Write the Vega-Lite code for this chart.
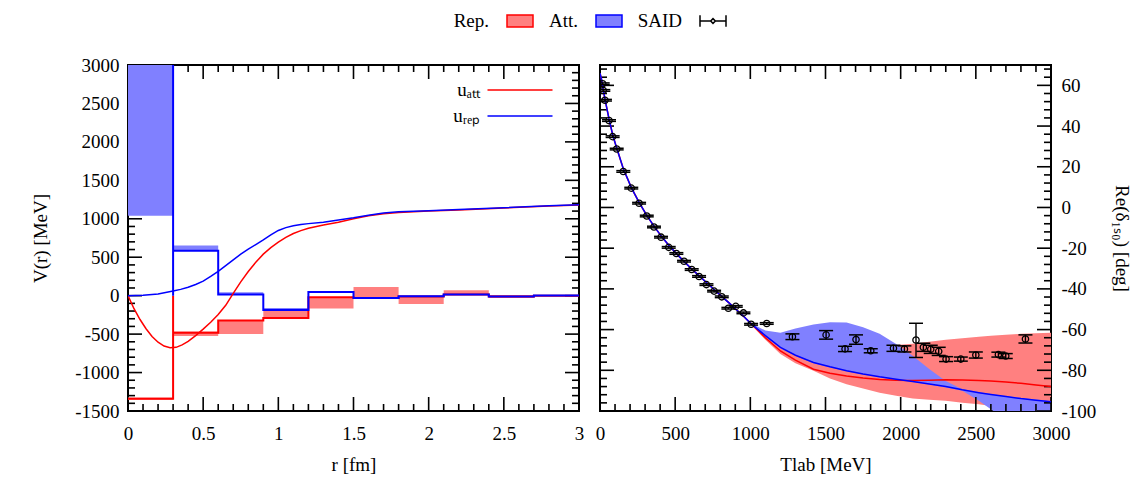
{
  "$schema": "https://vega.github.io/schema/vega-lite/v6.json",
  "padding": {"left": 30, "top": 6, "right": 5, "bottom": 3},
  "bounds": "flush",
  "spacing": 21,
  "config": {
    "font": "Liberation Serif",
    "view": {"stroke": "black", "strokeWidth": 2},
    "axis": {"labelFont": "Liberation Serif", "labelFontSize": 19, "labelColor": "black", "titleFont": "Liberation Serif", "titleFontSize": 19, "titleFontWeight": "normal", "titleColor": "black", "domain": false, "ticks": false, "grid": false, "labelFlush": false, "labelOverlap": false},
    "legend": {"labelFont": "Liberation Serif", "labelFontSize": 19, "labelColor": "black", "labelLimit": 0},
    "rule": {"color": "black", "strokeWidth": 1.6}
  },
  "datasets": {
    "tk_lx": [
      {"v": 0, "m": "maj"}, {"v": 0.1, "m": "min"}, {"v": 0.2, "m": "min"}, {"v": 0.3, "m": "min"}, {"v": 0.4, "m": "min"},
      {"v": 0.5, "m": "maj"}, {"v": 0.6, "m": "min"}, {"v": 0.7, "m": "min"}, {"v": 0.8, "m": "min"}, {"v": 0.9, "m": "min"},
      {"v": 1, "m": "maj"}, {"v": 1.1, "m": "min"}, {"v": 1.2, "m": "min"}, {"v": 1.3, "m": "min"}, {"v": 1.4, "m": "min"},
      {"v": 1.5, "m": "maj"}, {"v": 1.6, "m": "min"}, {"v": 1.7, "m": "min"}, {"v": 1.8, "m": "min"}, {"v": 1.9, "m": "min"},
      {"v": 2, "m": "maj"}, {"v": 2.1, "m": "min"}, {"v": 2.2, "m": "min"}, {"v": 2.3, "m": "min"}, {"v": 2.4, "m": "min"},
      {"v": 2.5, "m": "maj"}, {"v": 2.6, "m": "min"}, {"v": 2.7, "m": "min"}, {"v": 2.8, "m": "min"}, {"v": 2.9, "m": "min"},
      {"v": 3, "m": "maj"}
    ],
    "tk_ly": [
      {"v": -1500, "m": "maj"}, {"v": -1400, "m": "min"}, {"v": -1300, "m": "min"}, {"v": -1200, "m": "min"}, {"v": -1100, "m": "min"},
      {"v": -1000, "m": "maj"}, {"v": -900, "m": "min"}, {"v": -800, "m": "min"}, {"v": -700, "m": "min"}, {"v": -600, "m": "min"},
      {"v": -500, "m": "maj"}, {"v": -400, "m": "min"}, {"v": -300, "m": "min"}, {"v": -200, "m": "min"}, {"v": -100, "m": "min"},
      {"v": 0, "m": "maj"}, {"v": 100, "m": "min"}, {"v": 200, "m": "min"}, {"v": 300, "m": "min"}, {"v": 400, "m": "min"},
      {"v": 500, "m": "maj"}, {"v": 600, "m": "min"}, {"v": 700, "m": "min"}, {"v": 800, "m": "min"}, {"v": 900, "m": "min"},
      {"v": 1000, "m": "maj"}, {"v": 1100, "m": "min"}, {"v": 1200, "m": "min"}, {"v": 1300, "m": "min"}, {"v": 1400, "m": "min"},
      {"v": 1500, "m": "maj"}, {"v": 1600, "m": "min"}, {"v": 1700, "m": "min"}, {"v": 1800, "m": "min"}, {"v": 1900, "m": "min"},
      {"v": 2000, "m": "maj"}, {"v": 2100, "m": "min"}, {"v": 2200, "m": "min"}, {"v": 2300, "m": "min"}, {"v": 2400, "m": "min"},
      {"v": 2500, "m": "maj"}, {"v": 2600, "m": "min"}, {"v": 2700, "m": "min"}, {"v": 2800, "m": "min"}, {"v": 2900, "m": "min"},
      {"v": 3000, "m": "maj"}
    ],
    "tk_rx": [
      {"v": 0, "m": "maj"}, {"v": 100, "m": "min"}, {"v": 200, "m": "min"}, {"v": 300, "m": "min"}, {"v": 400, "m": "min"},
      {"v": 500, "m": "maj"}, {"v": 600, "m": "min"}, {"v": 700, "m": "min"}, {"v": 800, "m": "min"}, {"v": 900, "m": "min"},
      {"v": 1000, "m": "maj"}, {"v": 1100, "m": "min"}, {"v": 1200, "m": "min"}, {"v": 1300, "m": "min"}, {"v": 1400, "m": "min"},
      {"v": 1500, "m": "maj"}, {"v": 1600, "m": "min"}, {"v": 1700, "m": "min"}, {"v": 1800, "m": "min"}, {"v": 1900, "m": "min"},
      {"v": 2000, "m": "maj"}, {"v": 2100, "m": "min"}, {"v": 2200, "m": "min"}, {"v": 2300, "m": "min"}, {"v": 2400, "m": "min"},
      {"v": 2500, "m": "maj"}, {"v": 2600, "m": "min"}, {"v": 2700, "m": "min"}, {"v": 2800, "m": "min"}, {"v": 2900, "m": "min"},
      {"v": 3000, "m": "maj"}
    ],
    "tk_ry": [
      {"v": -100, "m": "maj"}, {"v": -96, "m": "min"}, {"v": -92, "m": "min"}, {"v": -88, "m": "min"}, {"v": -84, "m": "min"},
      {"v": -80, "m": "maj"}, {"v": -76, "m": "min"}, {"v": -72, "m": "min"}, {"v": -68, "m": "min"}, {"v": -64, "m": "min"},
      {"v": -60, "m": "maj"}, {"v": -56, "m": "min"}, {"v": -52, "m": "min"}, {"v": -48, "m": "min"}, {"v": -44, "m": "min"},
      {"v": -40, "m": "maj"}, {"v": -36, "m": "min"}, {"v": -32, "m": "min"}, {"v": -28, "m": "min"}, {"v": -24, "m": "min"},
      {"v": -20, "m": "maj"}, {"v": -16, "m": "min"}, {"v": -12, "m": "min"}, {"v": -8, "m": "min"}, {"v": -4, "m": "min"},
      {"v": 0, "m": "maj"}, {"v": 4, "m": "min"}, {"v": 8, "m": "min"}, {"v": 12, "m": "min"}, {"v": 16, "m": "min"},
      {"v": 20, "m": "maj"}, {"v": 24, "m": "min"}, {"v": 28, "m": "min"}, {"v": 32, "m": "min"}, {"v": 36, "m": "min"},
      {"v": 40, "m": "maj"}, {"v": 44, "m": "min"}, {"v": 48, "m": "min"}, {"v": 52, "m": "min"}, {"v": 56, "m": "min"},
      {"v": 60, "m": "maj"}, {"v": 64, "m": "min"}, {"v": 68, "m": "min"}
    ],
    "lbars": [
      {"kind": "Rep.", "r0": 0, "r1": 0.3, "lo": -1355, "hi": -1325},
      {"kind": "Rep.", "r0": 0.3, "r1": 0.6, "lo": -525, "hi": -465},
      {"kind": "Rep.", "r0": 0.6, "r1": 0.9, "lo": -497, "hi": -323},
      {"kind": "Rep.", "r0": 0.9, "r1": 1.2, "lo": -289, "hi": -160},
      {"kind": "Rep.", "r0": 1.2, "r1": 1.5, "lo": -168, "hi": -21},
      {"kind": "Rep.", "r0": 1.5, "r1": 1.8, "lo": -30, "hi": 113},
      {"kind": "Rep.", "r0": 1.8, "r1": 2.1, "lo": -107, "hi": -8},
      {"kind": "Rep.", "r0": 2.1, "r1": 2.4, "lo": 14, "hi": 70},
      {"kind": "Rep.", "r0": 2.4, "r1": 2.7, "lo": -30, "hi": 10},
      {"kind": "Rep.", "r0": 2.7, "r1": 3.0, "lo": -4, "hi": 4},
      {"kind": "Att.", "r0": 0, "r1": 0.3, "lo": 1040, "hi": 3500},
      {"kind": "Att.", "r0": 0.3, "r1": 0.6, "lo": 585, "hi": 654},
      {"kind": "Att.", "r0": 0.6, "r1": 0.9, "lo": 14, "hi": 44},
      {"kind": "Att.", "r0": 0.9, "r1": 1.2, "lo": -185, "hi": -160},
      {"kind": "Att.", "r0": 1.2, "r1": 1.5, "lo": 44, "hi": 58},
      {"kind": "Att.", "r0": 1.5, "r1": 1.8, "lo": -34, "hi": -24},
      {"kind": "Att.", "r0": 1.8, "r1": 2.1, "lo": -10, "hi": -2},
      {"kind": "Att.", "r0": 2.1, "r1": 2.4, "lo": 12, "hi": 20},
      {"kind": "Att.", "r0": 2.4, "r1": 2.7, "lo": -14, "hi": -6},
      {"kind": "Att.", "r0": 2.7, "r1": 3.0, "lo": -2, "hi": 6}
    ],
    "lsteps": [
      {"kind": "Rep.", "i": 0, "r": 0, "V": -1340},
      {"kind": "Rep.", "i": 1, "r": 0.3, "V": 0},
      {"kind": "Rep.", "i": 2, "r": 0.3, "V": -483},
      {"kind": "Rep.", "i": 3, "r": 0.6, "V": -323},
      {"kind": "Rep.", "i": 4, "r": 0.9, "V": -289},
      {"kind": "Rep.", "i": 5, "r": 1.2, "V": -21},
      {"kind": "Rep.", "i": 6, "r": 1.5, "V": -30},
      {"kind": "Rep.", "i": 7, "r": 1.8, "V": -10},
      {"kind": "Rep.", "i": 8, "r": 2.1, "V": 14},
      {"kind": "Rep.", "i": 9, "r": 2.4, "V": -12},
      {"kind": "Rep.", "i": 10, "r": 2.7, "V": 0},
      {"kind": "Rep.", "i": 11, "r": 3.0, "V": 0},
      {"kind": "Att.", "i": 0, "r": 0, "V": 3500},
      {"kind": "Att.", "i": 1, "r": 0.3, "V": 0},
      {"kind": "Att.", "i": 2, "r": 0.3, "V": 585},
      {"kind": "Att.", "i": 3, "r": 0.6, "V": 14},
      {"kind": "Att.", "i": 4, "r": 0.9, "V": -185},
      {"kind": "Att.", "i": 5, "r": 1.2, "V": 48},
      {"kind": "Att.", "i": 6, "r": 1.5, "V": -30},
      {"kind": "Att.", "i": 7, "r": 1.8, "V": -8},
      {"kind": "Att.", "i": 8, "r": 2.1, "V": 16},
      {"kind": "Att.", "i": 9, "r": 2.4, "V": -10},
      {"kind": "Att.", "i": 10, "r": 2.7, "V": 2},
      {"kind": "Att.", "i": 11, "r": 3.0, "V": 2}
    ],
    "lcurves": [
      {"curve": "uₐₜₜ", "r": 0, "V": 0},
      {"curve": "uₐₜₜ", "r": 0.04, "V": -170},
      {"curve": "uₐₜₜ", "r": 0.08, "V": -310},
      {"curve": "uₐₜₜ", "r": 0.12, "V": -430},
      {"curve": "uₐₜₜ", "r": 0.16, "V": -530},
      {"curve": "uₐₜₜ", "r": 0.2, "V": -605},
      {"curve": "uₐₜₜ", "r": 0.24, "V": -655},
      {"curve": "uₐₜₜ", "r": 0.28, "V": -678},
      {"curve": "uₐₜₜ", "r": 0.32, "V": -672},
      {"curve": "uₐₜₜ", "r": 0.36, "V": -640},
      {"curve": "uₐₜₜ", "r": 0.4, "V": -595},
      {"curve": "uₐₜₜ", "r": 0.45, "V": -520},
      {"curve": "uₐₜₜ", "r": 0.5, "V": -435},
      {"curve": "uₐₜₜ", "r": 0.55, "V": -345},
      {"curve": "uₐₜₜ", "r": 0.6, "V": -245},
      {"curve": "uₐₜₜ", "r": 0.65, "V": -125},
      {"curve": "uₐₜₜ", "r": 0.7, "V": 30},
      {"curve": "uₐₜₜ", "r": 0.75, "V": 180},
      {"curve": "uₐₜₜ", "r": 0.8, "V": 315},
      {"curve": "uₐₜₜ", "r": 0.85, "V": 435},
      {"curve": "uₐₜₜ", "r": 0.9, "V": 540},
      {"curve": "uₐₜₜ", "r": 0.95, "V": 625},
      {"curve": "uₐₜₜ", "r": 1.0, "V": 695},
      {"curve": "uₐₜₜ", "r": 1.05, "V": 758},
      {"curve": "uₐₜₜ", "r": 1.1, "V": 808},
      {"curve": "uₐₜₜ", "r": 1.15, "V": 846},
      {"curve": "uₐₜₜ", "r": 1.2, "V": 876},
      {"curve": "uₐₜₜ", "r": 1.3, "V": 920},
      {"curve": "uₐₜₜ", "r": 1.4, "V": 955},
      {"curve": "uₐₜₜ", "r": 1.5, "V": 1000},
      {"curve": "uₐₜₜ", "r": 1.6, "V": 1040},
      {"curve": "uₐₜₜ", "r": 1.7, "V": 1065},
      {"curve": "uₐₜₜ", "r": 1.8, "V": 1082},
      {"curve": "uₐₜₜ", "r": 2.0, "V": 1100},
      {"curve": "uₐₜₜ", "r": 2.2, "V": 1115},
      {"curve": "uₐₜₜ", "r": 2.5, "V": 1140},
      {"curve": "uₐₜₜ", "r": 2.8, "V": 1165},
      {"curve": "uₐₜₜ", "r": 3.0, "V": 1178},
      {"curve": "uᵣₑₚ", "r": 0, "V": 0},
      {"curve": "uᵣₑₚ", "r": 0.1, "V": 6},
      {"curve": "uᵣₑₚ", "r": 0.2, "V": 22},
      {"curve": "uᵣₑₚ", "r": 0.3, "V": 60},
      {"curve": "uᵣₑₚ", "r": 0.35, "V": 82},
      {"curve": "uᵣₑₚ", "r": 0.4, "V": 110},
      {"curve": "uᵣₑₚ", "r": 0.45, "V": 145},
      {"curve": "uᵣₑₚ", "r": 0.5, "V": 190},
      {"curve": "uᵣₑₚ", "r": 0.55, "V": 250},
      {"curve": "uᵣₑₚ", "r": 0.6, "V": 316},
      {"curve": "uᵣₑₚ", "r": 0.65, "V": 390},
      {"curve": "uᵣₑₚ", "r": 0.7, "V": 465},
      {"curve": "uᵣₑₚ", "r": 0.75, "V": 540},
      {"curve": "uᵣₑₚ", "r": 0.8, "V": 605},
      {"curve": "uᵣₑₚ", "r": 0.85, "V": 665},
      {"curve": "uᵣₑₚ", "r": 0.9, "V": 725},
      {"curve": "uᵣₑₚ", "r": 0.95, "V": 790},
      {"curve": "uᵣₑₚ", "r": 1.0, "V": 848},
      {"curve": "uᵣₑₚ", "r": 1.05, "V": 885},
      {"curve": "uᵣₑₚ", "r": 1.1, "V": 910},
      {"curve": "uᵣₑₚ", "r": 1.15, "V": 926},
      {"curve": "uᵣₑₚ", "r": 1.2, "V": 937},
      {"curve": "uᵣₑₚ", "r": 1.3, "V": 955},
      {"curve": "uᵣₑₚ", "r": 1.4, "V": 985},
      {"curve": "uᵣₑₚ", "r": 1.5, "V": 1012},
      {"curve": "uᵣₑₚ", "r": 1.6, "V": 1045},
      {"curve": "uᵣₑₚ", "r": 1.7, "V": 1075},
      {"curve": "uᵣₑₚ", "r": 1.8, "V": 1090},
      {"curve": "uᵣₑₚ", "r": 2.0, "V": 1105},
      {"curve": "uᵣₑₚ", "r": 2.2, "V": 1120},
      {"curve": "uᵣₑₚ", "r": 2.5, "V": 1145},
      {"curve": "uᵣₑₚ", "r": 2.8, "V": 1168},
      {"curve": "uᵣₑₚ", "r": 3.0, "V": 1181}
    ],
    "phase": [
      {"T": 0, "blue": 66, "red": 66},
      {"T": 10, "blue": 63, "red": 63},
      {"T": 20, "blue": 58.5, "red": 58.5},
      {"T": 35, "blue": 52.5, "red": 52.5},
      {"T": 60, "blue": 43.5, "red": 43.5},
      {"T": 85, "blue": 35.5, "red": 35.5},
      {"T": 110, "blue": 29.5, "red": 29.5},
      {"T": 155, "blue": 19, "red": 19},
      {"T": 210, "blue": 9.5, "red": 9.5},
      {"T": 260, "blue": 2.5, "red": 2.5},
      {"T": 310, "blue": -3.8, "red": -3.8},
      {"T": 360, "blue": -9.3, "red": -9.3},
      {"T": 410, "blue": -14.3, "red": -14.3},
      {"T": 460, "blue": -18.8, "red": -18.8},
      {"T": 510, "blue": -22.8, "red": -22.8},
      {"T": 560, "blue": -26.6, "red": -26.6},
      {"T": 610, "blue": -30.2, "red": -30.2},
      {"T": 660, "blue": -33.6, "red": -33.6},
      {"T": 710, "blue": -37, "red": -37},
      {"T": 760, "blue": -40.4, "red": -40.4},
      {"T": 810, "blue": -43.7, "red": -43.7},
      {"T": 860, "blue": -47, "red": -47},
      {"T": 910, "blue": -50.4, "red": -50.4},
      {"T": 960, "blue": -53.8, "red": -53.8},
      {"T": 1000, "blue": -56.8, "red": -56.8, "bLo": -57, "bHi": -56.6, "rLo": -57.1, "rHi": -56.6},
      {"T": 1100, "blue": -63, "red": -64, "bLo": -63.3, "bHi": -60.5, "rLo": -65, "rHi": -61},
      {"T": 1200, "blue": -68.7, "red": -70.5, "bLo": -69, "bHi": -61.6, "rLo": -72, "rHi": -63},
      {"T": 1300, "blue": -72.6, "red": -75, "bLo": -72.9, "bHi": -59.5, "rLo": -76.5, "rHi": -64.5},
      {"T": 1420, "blue": -76.2, "red": -79.5, "bLo": -76.5, "bHi": -57.5, "rLo": -80.2, "rHi": -65.5},
      {"T": 1530, "blue": -78.3, "red": -81.5, "bLo": -78.6, "bHi": -56.4, "rLo": -84, "rHi": -66.5},
      {"T": 1640, "blue": -80.2, "red": -82.8, "bLo": -80.5, "bHi": -56.5, "rLo": -86.8, "rHi": -67},
      {"T": 1750, "blue": -81.8, "red": -83.8, "bLo": -82.1, "bHi": -58.9, "rLo": -89, "rHi": -67.5},
      {"T": 1860, "blue": -83.2, "red": -84.5, "bLo": -83.5, "bHi": -62.1, "rLo": -91, "rHi": -67.8},
      {"T": 1970, "blue": -84.4, "red": -84.9, "bLo": -84.7, "bHi": -67.1, "rLo": -92.5, "rHi": -67.6},
      {"T": 2080, "blue": -85.5, "red": -85, "bLo": -85.8, "bHi": -72.8, "rLo": -93.9, "rHi": -67},
      {"T": 2190, "blue": -86.7, "red": -84.9, "bLo": -87, "bHi": -79.4, "rLo": -94.5, "rHi": -66},
      {"T": 2300, "blue": -88, "red": -84.7, "bLo": -88.5, "bHi": -85.2, "rLo": -95, "rHi": -65},
      {"T": 2410, "blue": -89.6, "red": -84.8, "bLo": -90.1, "bHi": -89.3, "rLo": -96, "rHi": -64.2},
      {"T": 2520, "blue": -91, "red": -85, "bLo": -95, "bHi": -90.7, "rLo": -96.7, "rHi": -63.5},
      {"T": 2600, "blue": -91.9, "red": -85.3, "bLo": -99.2, "bHi": -91.6, "rLo": -97.5, "rHi": -63},
      {"T": 2700, "blue": -92.9, "red": -85.8, "bLo": -104, "bHi": -92.6, "rLo": -98.5, "rHi": -62.5},
      {"T": 2800, "blue": -93.9, "red": -86.4, "bLo": -108, "bHi": -93.6, "rLo": -99.5, "rHi": -62.1},
      {"T": 2900, "blue": -94.7, "red": -87.2, "bLo": -112, "bHi": -94.4, "rLo": -100.5, "rHi": -61.8},
      {"T": 3000, "blue": -95.4, "red": -88, "bLo": -115, "bHi": -95.1, "rLo": -101.5, "rHi": -61.5}
    ],
    "said": [
      {"T": 18, "d": 60.8, "lo": 60.4, "hi": 61.2},
      {"T": 22, "d": 57.5, "lo": 57.1, "hi": 57.9},
      {"T": 33, "d": 52.7, "lo": 52.3, "hi": 53.1},
      {"T": 60, "d": 42.7, "lo": 42.3, "hi": 43.1},
      {"T": 84, "d": 34.8, "lo": 34.4, "hi": 35.2},
      {"T": 111, "d": 28.7, "lo": 28.3, "hi": 29.1},
      {"T": 155, "d": 17.7, "lo": 17.3, "hi": 18.1},
      {"T": 208, "d": 9.5, "lo": 9.1, "hi": 9.9},
      {"T": 260, "d": 2.1, "lo": 1.7, "hi": 2.5},
      {"T": 311, "d": -4.2, "lo": -4.6, "hi": -3.8},
      {"T": 359, "d": -9.6, "lo": -10, "hi": -9.2},
      {"T": 406, "d": -14.6, "lo": -15, "hi": -14.2},
      {"T": 457, "d": -19.6, "lo": -20, "hi": -19.2},
      {"T": 508, "d": -22.6, "lo": -23, "hi": -22.2},
      {"T": 559, "d": -26.4, "lo": -26.8, "hi": -26},
      {"T": 610, "d": -30.5, "lo": -30.9, "hi": -30.1},
      {"T": 659, "d": -33.9, "lo": -34.3, "hi": -33.5},
      {"T": 708, "d": -37.9, "lo": -38.3, "hi": -37.5},
      {"T": 759, "d": -41.1, "lo": -41.5, "hi": -40.7},
      {"T": 810, "d": -43.9, "lo": -44.3, "hi": -43.5},
      {"T": 854, "d": -49.5, "lo": -49.9, "hi": -49.1},
      {"T": 903, "d": -48.6, "lo": -49, "hi": -48.2},
      {"T": 954, "d": -51.8, "lo": -52.2, "hi": -51.4},
      {"T": 1005, "d": -57.4, "lo": -57.8, "hi": -57},
      {"T": 1109, "d": -57, "lo": -57.4, "hi": -56.6},
      {"T": 1280, "d": -63.5, "lo": -64.9, "hi": -62.1},
      {"T": 1504, "d": -62.6, "lo": -64.7, "hi": -60.5},
      {"T": 1630, "d": -69.5, "lo": -70.8, "hi": -68.2},
      {"T": 1703, "d": -64.9, "lo": -67.2, "hi": -62.6},
      {"T": 1801, "d": -70.4, "lo": -71.4, "hi": -69.4},
      {"T": 1952, "d": -69.2, "lo": -70.7, "hi": -67.7},
      {"T": 2025, "d": -69.5, "lo": -71, "hi": -68},
      {"T": 2102, "d": -65.1, "lo": -73.7, "hi": -56.9},
      {"T": 2151, "d": -68.7, "lo": -70.7, "hi": -66.7},
      {"T": 2200, "d": -69.7, "lo": -71.7, "hi": -67.7},
      {"T": 2253, "d": -70.7, "lo": -72.7, "hi": -68.7},
      {"T": 2302, "d": -74.5, "lo": -75.7, "hi": -73.3},
      {"T": 2400, "d": -74.5, "lo": -75.5, "hi": -73.5},
      {"T": 2500, "d": -72.5, "lo": -74, "hi": -71},
      {"T": 2650, "d": -72.3, "lo": -73.5, "hi": -71.1},
      {"T": 2699, "d": -73, "lo": -74.2, "hi": -71.8},
      {"T": 2830, "d": -64.6, "lo": -66.6, "hi": -62.6}
    ],
    "keys": [{"k": "Rep."}, {"k": "Att."}, {"k": "SAID"}]
  },
  "hconcat": [
    {
      "width": 451,
      "height": 346,
      "layer": [
        {"data": {"name": "tk_lx"}, "transform": [{"filter": "datum.m == 'maj'"}], "mark": {"type": "rule"},
          "encoding": {"x": {"field": "v", "type": "quantitative", "scale": {"domain": [0, 3], "nice": false, "zero": false}, "axis": null},
            "y": {"datum": -1500, "type": "quantitative", "scale": {"domain": [-1500, 3000], "nice": false, "zero": false}, "axis": null}, "y2": {"datum": -1318}}},
        {"data": {"name": "tk_lx"}, "transform": [{"filter": "datum.m == 'min'"}], "mark": {"type": "rule"},
          "encoding": {"x": {"field": "v", "type": "quantitative", "scale": {"domain": [0, 3], "nice": false, "zero": false}, "axis": null},
            "y": {"datum": -1500, "type": "quantitative", "scale": {"domain": [-1500, 3000], "nice": false, "zero": false}, "axis": null}, "y2": {"datum": -1409}}},
        {"data": {"name": "tk_lx"}, "transform": [{"filter": "datum.m == 'maj'"}], "mark": {"type": "rule"},
          "encoding": {"x": {"field": "v", "type": "quantitative", "scale": {"domain": [0, 3], "nice": false, "zero": false}, "axis": null},
            "y": {"datum": 3000, "type": "quantitative", "scale": {"domain": [-1500, 3000], "nice": false, "zero": false}, "axis": null}, "y2": {"datum": 2818}}},
        {"data": {"name": "tk_lx"}, "transform": [{"filter": "datum.m == 'min'"}], "mark": {"type": "rule"},
          "encoding": {"x": {"field": "v", "type": "quantitative", "scale": {"domain": [0, 3], "nice": false, "zero": false}, "axis": null},
            "y": {"datum": 3000, "type": "quantitative", "scale": {"domain": [-1500, 3000], "nice": false, "zero": false}, "axis": null}, "y2": {"datum": 2909}}},
        {"data": {"name": "tk_ly"}, "transform": [{"filter": "datum.m == 'maj'"}], "mark": {"type": "rule"},
          "encoding": {"y": {"field": "v", "type": "quantitative", "scale": {"domain": [-1500, 3000], "nice": false, "zero": false}, "axis": null},
            "x": {"datum": 0, "type": "quantitative", "scale": {"domain": [0, 3], "nice": false, "zero": false}, "axis": null}, "x2": {"datum": 0.0931}}},
        {"data": {"name": "tk_ly"}, "transform": [{"filter": "datum.m == 'min'"}], "mark": {"type": "rule"},
          "encoding": {"y": {"field": "v", "type": "quantitative", "scale": {"domain": [-1500, 3000], "nice": false, "zero": false}, "axis": null},
            "x": {"datum": 0, "type": "quantitative", "scale": {"domain": [0, 3], "nice": false, "zero": false}, "axis": null}, "x2": {"datum": 0.0466}}},
        {"data": {"name": "tk_ly"}, "transform": [{"filter": "datum.m == 'maj'"}], "mark": {"type": "rule"},
          "encoding": {"y": {"field": "v", "type": "quantitative", "scale": {"domain": [-1500, 3000], "nice": false, "zero": false}, "axis": null},
            "x": {"datum": 3, "type": "quantitative", "scale": {"domain": [0, 3], "nice": false, "zero": false}, "axis": null}, "x2": {"datum": 2.9069}}},
        {"data": {"name": "tk_ly"}, "transform": [{"filter": "datum.m == 'min'"}], "mark": {"type": "rule"},
          "encoding": {"y": {"field": "v", "type": "quantitative", "scale": {"domain": [-1500, 3000], "nice": false, "zero": false}, "axis": null},
            "x": {"datum": 3, "type": "quantitative", "scale": {"domain": [0, 3], "nice": false, "zero": false}, "axis": null}, "x2": {"datum": 2.9534}}},
        {
          "data": {"name": "lbars"},
          "mark": {"type": "rect", "clip": true},
          "encoding": {
            "x": {"field": "r0", "type": "quantitative", "scale": {"domain": [0, 3], "nice": false, "zero": false},
              "axis": {"orient": "bottom", "values": [0, 0.5, 1, 1.5, 2, 2.5, 3], "labelExpr": "'' + datum.value", "labelPadding": 13, "title": "r [fm]", "titlePadding": 12}},
            "x2": {"field": "r1"},
            "y": {"field": "lo", "type": "quantitative", "scale": {"domain": [-1500, 3000], "nice": false, "zero": false},
              "axis": {"orient": "left", "values": [-1500, -1000, -500, 0, 500, 1000, 1500, 2000, 2500, 3000], "labelExpr": "'' + datum.value", "labelPadding": 9, "title": "V(r) [MeV]", "titlePadding": 24}},
            "y2": {"field": "hi"},
            "fill": {"field": "kind", "type": "nominal", "scale": {"domain": ["Rep.", "Att."], "range": ["#ff8080", "#8080ff"]}, "legend": null}
          }
        },
        {
          "data": {"name": "lsteps"},
          "transform": [{"filter": "datum.kind == 'Rep.'"}],
          "mark": {"type": "line", "interpolate": "step-after", "color": "#ff0000", "strokeWidth": 2, "clip": true},
          "encoding": {
            "x": {"field": "r", "type": "quantitative", "scale": {"domain": [0, 3], "nice": false, "zero": false}, "axis": null},
            "y": {"field": "V", "type": "quantitative", "scale": {"domain": [-1500, 3000], "nice": false, "zero": false}, "axis": null},
            "order": {"field": "i", "type": "quantitative"}
          }
        },
        {
          "data": {"name": "lsteps"},
          "transform": [{"filter": "datum.kind == 'Att.'"}],
          "mark": {"type": "line", "interpolate": "step-after", "color": "#0000ff", "strokeWidth": 2, "clip": true},
          "encoding": {
            "x": {"field": "r", "type": "quantitative", "scale": {"domain": [0, 3], "nice": false, "zero": false}, "axis": null},
            "y": {"field": "V", "type": "quantitative", "scale": {"domain": [-1500, 3000], "nice": false, "zero": false}, "axis": null},
            "order": {"field": "i", "type": "quantitative"}
          }
        },
        {
          "data": {"name": "lcurves"},
          "mark": {"type": "line", "strokeWidth": 1.5, "clip": true},
          "encoding": {
            "x": {"field": "r", "type": "quantitative", "scale": {"domain": [0, 3], "nice": false, "zero": false}, "axis": null},
            "y": {"field": "V", "type": "quantitative", "scale": {"domain": [-1500, 3000], "nice": false, "zero": false}, "axis": null},
            "stroke": {"field": "curve", "type": "nominal", "scale": {"domain": ["uₐₜₜ", "uᵣₑₚ"], "range": ["#ff0000", "#0000ff"]},
              "legend": {"orient": "none", "legendX": 378, "legendY": 11, "direction": "vertical", "title": null, "symbolType": "M-2.5,0H2.5", "symbolSize": 676, "symbolStrokeWidth": 1.5, "labelAlign": "right", "labelOffset": -54, "rowPadding": 2, "padding": 0}}
          }
        }
      ],
      "resolve": {"axis": {"x": "independent", "y": "independent"}}
    },
    {
      "width": 451,
      "height": 346,
      "layer": [
        {
          "data": {"name": "phase"},
          "mark": {"type": "area", "color": "#ff8080", "opacity": 1, "clip": true},
          "encoding": {
            "x": {"field": "T", "type": "quantitative", "scale": {"domain": [0, 3000], "nice": false, "zero": false},
              "axis": {"orient": "bottom", "values": [0, 500, 1000, 1500, 2000, 2500, 3000], "labelExpr": "'' + datum.value", "labelPadding": 13, "title": "Tlab [MeV]", "titlePadding": 12}},
            "y": {"field": "rLo", "type": "quantitative", "scale": {"domain": [-100, 70], "nice": false, "zero": false},
              "axis": {"orient": "right", "values": [-100, -80, -60, -40, -20, 0, 20, 40, 60], "labelExpr": "'' + datum.value", "labelPadding": 10, "title": "Re(δ₁ₛ₀) [deg]", "titlePadding": 16}},
            "y2": {"field": "rHi"}
          }
        },
        {
          "data": {"name": "phase"},
          "mark": {"type": "area", "color": "#8080ff", "opacity": 1, "clip": true},
          "encoding": {
            "x": {"field": "T", "type": "quantitative", "scale": {"domain": [0, 3000], "nice": false, "zero": false}, "axis": null},
            "y": {"field": "bLo", "type": "quantitative", "scale": {"domain": [-100, 70], "nice": false, "zero": false}, "axis": null},
            "y2": {"field": "bHi"}
          }
        },
        {"data": {"name": "tk_rx"}, "transform": [{"filter": "datum.m == 'maj'"}], "mark": {"type": "rule"},
          "encoding": {"x": {"field": "v", "type": "quantitative", "scale": {"domain": [0, 3000], "nice": false, "zero": false}, "axis": null},
            "y": {"datum": -100, "type": "quantitative", "scale": {"domain": [-100, 70], "nice": false, "zero": false}, "axis": null}, "y2": {"datum": -93.12}}},
        {"data": {"name": "tk_rx"}, "transform": [{"filter": "datum.m == 'min'"}], "mark": {"type": "rule"},
          "encoding": {"x": {"field": "v", "type": "quantitative", "scale": {"domain": [0, 3000], "nice": false, "zero": false}, "axis": null},
            "y": {"datum": -100, "type": "quantitative", "scale": {"domain": [-100, 70], "nice": false, "zero": false}, "axis": null}, "y2": {"datum": -96.56}}},
        {"data": {"name": "tk_rx"}, "transform": [{"filter": "datum.m == 'maj'"}], "mark": {"type": "rule"},
          "encoding": {"x": {"field": "v", "type": "quantitative", "scale": {"domain": [0, 3000], "nice": false, "zero": false}, "axis": null},
            "y": {"datum": 70, "type": "quantitative", "scale": {"domain": [-100, 70], "nice": false, "zero": false}, "axis": null}, "y2": {"datum": 63.12}}},
        {"data": {"name": "tk_rx"}, "transform": [{"filter": "datum.m == 'min'"}], "mark": {"type": "rule"},
          "encoding": {"x": {"field": "v", "type": "quantitative", "scale": {"domain": [0, 3000], "nice": false, "zero": false}, "axis": null},
            "y": {"datum": 70, "type": "quantitative", "scale": {"domain": [-100, 70], "nice": false, "zero": false}, "axis": null}, "y2": {"datum": 66.56}}},
        {"data": {"name": "tk_ry"}, "transform": [{"filter": "datum.m == 'maj'"}], "mark": {"type": "rule"},
          "encoding": {"y": {"field": "v", "type": "quantitative", "scale": {"domain": [-100, 70], "nice": false, "zero": false}, "axis": null},
            "x": {"datum": 0, "type": "quantitative", "scale": {"domain": [0, 3000], "nice": false, "zero": false}, "axis": null}, "x2": {"datum": 93.1}}},
        {"data": {"name": "tk_ry"}, "transform": [{"filter": "datum.m == 'min'"}], "mark": {"type": "rule"},
          "encoding": {"y": {"field": "v", "type": "quantitative", "scale": {"domain": [-100, 70], "nice": false, "zero": false}, "axis": null},
            "x": {"datum": 0, "type": "quantitative", "scale": {"domain": [0, 3000], "nice": false, "zero": false}, "axis": null}, "x2": {"datum": 46.6}}},
        {"data": {"name": "tk_ry"}, "transform": [{"filter": "datum.m == 'maj'"}], "mark": {"type": "rule"},
          "encoding": {"y": {"field": "v", "type": "quantitative", "scale": {"domain": [-100, 70], "nice": false, "zero": false}, "axis": null},
            "x": {"datum": 3000, "type": "quantitative", "scale": {"domain": [0, 3000], "nice": false, "zero": false}, "axis": null}, "x2": {"datum": 2906.9}}},
        {"data": {"name": "tk_ry"}, "transform": [{"filter": "datum.m == 'min'"}], "mark": {"type": "rule"},
          "encoding": {"y": {"field": "v", "type": "quantitative", "scale": {"domain": [-100, 70], "nice": false, "zero": false}, "axis": null},
            "x": {"datum": 3000, "type": "quantitative", "scale": {"domain": [0, 3000], "nice": false, "zero": false}, "axis": null}, "x2": {"datum": 2953.4}}},
        {
          "data": {"name": "phase"},
          "mark": {"type": "line", "color": "#ff0000", "strokeWidth": 1.5, "clip": true},
          "encoding": {
            "x": {"field": "T", "type": "quantitative", "scale": {"domain": [0, 3000], "nice": false, "zero": false}, "axis": null},
            "y": {"field": "red", "type": "quantitative", "scale": {"domain": [-100, 70], "nice": false, "zero": false}, "axis": null}
          }
        },
        {
          "data": {"name": "phase"},
          "mark": {"type": "line", "color": "#0000ff", "strokeWidth": 1.5, "clip": true},
          "encoding": {
            "x": {"field": "T", "type": "quantitative", "scale": {"domain": [0, 3000], "nice": false, "zero": false}, "axis": null},
            "y": {"field": "blue", "type": "quantitative", "scale": {"domain": [-100, 70], "nice": false, "zero": false}, "axis": null}
          }
        },
        {
          "data": {"name": "said"},
          "mark": {"type": "rule", "color": "black", "strokeWidth": 1.4, "clip": true},
          "encoding": {
            "x": {"field": "T", "type": "quantitative", "scale": {"domain": [0, 3000], "nice": false, "zero": false}, "axis": null},
            "y": {"field": "lo", "type": "quantitative", "scale": {"domain": [-100, 70], "nice": false, "zero": false}, "axis": null},
            "y2": {"field": "hi"}
          }
        },
        {
          "data": {"name": "said"},
          "mark": {"type": "point", "shape": "stroke", "size": 196, "stroke": "black", "strokeWidth": 1.5, "opacity": 1, "clip": true},
          "encoding": {
            "x": {"field": "T", "type": "quantitative", "scale": {"domain": [0, 3000], "nice": false, "zero": false}, "axis": null},
            "y": {"field": "lo", "type": "quantitative", "scale": {"domain": [-100, 70], "nice": false, "zero": false}, "axis": null}
          }
        },
        {
          "data": {"name": "said"},
          "mark": {"type": "point", "shape": "stroke", "size": 196, "stroke": "black", "strokeWidth": 1.5, "opacity": 1, "clip": true},
          "encoding": {
            "x": {"field": "T", "type": "quantitative", "scale": {"domain": [0, 3000], "nice": false, "zero": false}, "axis": null},
            "y": {"field": "hi", "type": "quantitative", "scale": {"domain": [-100, 70], "nice": false, "zero": false}, "axis": null}
          }
        },
        {
          "data": {"name": "said"},
          "mark": {"type": "point", "shape": "circle", "size": 40, "filled": false, "stroke": "black", "strokeWidth": 1.3, "opacity": 1, "clip": true},
          "encoding": {
            "x": {"field": "T", "type": "quantitative", "scale": {"domain": [0, 3000], "nice": false, "zero": false}, "axis": null},
            "y": {"field": "d", "type": "quantitative", "scale": {"domain": [-100, 70], "nice": false, "zero": false}, "axis": null}
          }
        },
        {
          "data": {"name": "keys"},
          "transform": [{"filter": "false"}],
          "mark": {"type": "point", "filled": true, "strokeWidth": 1.5, "opacity": 1},
          "encoding": {
            "fill": {"field": "k", "type": "nominal", "scale": {"domain": ["Rep.", "Att.", "SAID"], "range": ["#ff8080", "#8080ff", "#ffffff"]},
              "legend": {"orient": "none", "legendX": -94, "legendY": -58, "direction": "horizontal", "title": null, "symbolSize": 676, "symbolStrokeWidth": 1.5, "labelAlign": "right", "labelOffset": -45, "columnPadding": 12, "padding": 0, "symbolOpacity": 1}},
            "stroke": {"field": "k", "type": "nominal", "scale": {"domain": ["Rep.", "Att.", "SAID"], "range": ["#ff0000", "#0000ff", "#000000"]},
              "legend": {"orient": "none", "legendX": -94, "legendY": -58, "direction": "horizontal", "title": null, "symbolSize": 676, "symbolStrokeWidth": 1.5, "labelAlign": "right", "labelOffset": -45, "columnPadding": 12, "padding": 0, "symbolOpacity": 1}},
            "shape": {"field": "k", "type": "nominal", "scale": {"domain": ["Rep.", "Att.", "SAID"], "range": ["M-1,-0.46H1V0.46H-1Z", "M-1,-0.46H1V0.46H-1Z", "M-1,-0.45V0.45M-1,0H-0.18M0.18,0H1M1,-0.45V0.45M-0.18,0L0,-0.18L0.18,0L0,0.18Z"]},
              "legend": {"orient": "none", "legendX": -94, "legendY": -58, "direction": "horizontal", "title": null, "symbolSize": 676, "symbolStrokeWidth": 1.5, "labelAlign": "right", "labelOffset": -45, "columnPadding": 12, "padding": 0, "symbolOpacity": 1}}
          }
        }
      ],
      "resolve": {"axis": {"x": "independent", "y": "independent"}}
    }
  ],
  "resolve": {"scale": {"fill": "independent", "stroke": "independent", "shape": "independent", "color": "independent"}}
}
